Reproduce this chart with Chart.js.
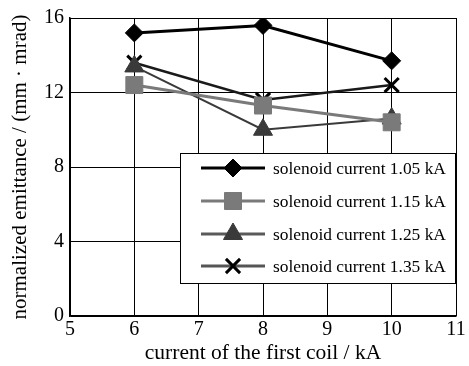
<!DOCTYPE html>
<html>
<head>
<meta charset="utf-8">
<script src="https://cdn.jsdelivr.net/npm/chart.js@4"></script>
<style>
  html, body { margin: 0; padding: 0; background: #fff; }
  #wrap { width: 469px; height: 366px; }
</style>
</head>
<body>
<div id="wrap"><canvas id="emittanceChart" width="469" height="366"></canvas></div>
<script>
// values
const coilCurrent = [6, 8, 10];
const seriesLabels = [
  'solenoid current 1.05 kA',
  'solenoid current 1.15 kA',
  'solenoid current 1.25 kA',
  'solenoid current 1.35 kA'
];
const emit105 = [15.2, 15.6, 13.7];
const emit115 = [12.4, 11.3, 10.4];
const emit125 = [13.4, 10.0, 10.6];
const emit135 = [13.6, 11.6, 12.4];
const xTicks = [5, 6, 7, 8, 9, 10, 11];
const yTicks = [0, 4, 8, 12, 16];

const FONT = '"Liberation Serif", "Times New Roman", serif';

function toPoints(ys) {
  return coilCurrent.map((x, i) => ({ x: x, y: ys[i] }));
}

const styles = [
  { color: '#000000', width: 3, point: 'rectRot', radius: 9, legendLine: '#000000' },
  { color: '#7a7a7a', width: 3, point: 'rect', radius: 12, legendLine: '#7a7a7a' },
  { color: '#3a3a3a', width: 2, point: 'triangle', radius: 11, legendLine: '#5a5a5a' },
  { color: '#1a1a1a', width: 2.5, point: 'crossRot', radius: 10, legendLine: '#555555' }
];
const allSeries = [emit105, emit115, emit125, emit135];

const datasets = allSeries.map((ys, i) => ({
  label: seriesLabels[i],
  data: toPoints(ys),
  borderColor: styles[i].color,
  backgroundColor: styles[i].color,
  borderWidth: styles[i].width,
  pointStyle: styles[i].point,
  pointRadius: styles[i].radius,
  pointBorderWidth: styles[i].point === 'crossRot' ? 3 : 1,
  pointBorderColor: styles[i].point === 'crossRot' ? '#000' : styles[i].color,
  tension: 0
}));

// legend box inside the plot, like the figure
const boxLegend = {
  id: 'boxLegend',
  afterDatasetsDraw(chart) {
    const ctx = chart.ctx;
    const area = chart.chartArea;
    const left = 180, top = 153, right = area.right, bottom = 284;
    ctx.save();
    ctx.fillStyle = '#fff';
    ctx.fillRect(left, top, right - left, bottom - top);
    ctx.strokeStyle = '#000';
    ctx.lineWidth = 1;
    ctx.strokeRect(left + 0.5, top + 0.5, right - left - 1, bottom - top - 1);
    const rowY = [168, 201, 234, 266];
    ctx.font = '17.4px ' + FONT;
    ctx.textBaseline = 'middle';
    ctx.textAlign = 'left';
    chart.data.datasets.forEach((ds, i) => {
      const y = rowY[i];
      ctx.strokeStyle = styles[i].legendLine;
      ctx.lineWidth = 3;
      ctx.beginPath();
      ctx.moveTo(201, y);
      ctx.lineTo(265, y);
      ctx.stroke();
      ctx.fillStyle = ds.backgroundColor;
      ctx.strokeStyle = ds.pointBorderColor;
      ctx.lineWidth = ds.pointBorderWidth;
      Chart.helpers.drawPoint(ctx, { pointStyle: ds.pointStyle, radius: ds.pointRadius, rotation: 0, borderWidth: ds.pointBorderWidth }, 233, y);
      ctx.fillStyle = '#000';
      ctx.fillText(ds.label, 273, y + 1);
    });
    ctx.restore();
  }
};

new Chart(document.getElementById('emittanceChart'), {
  type: 'line',
  data: { datasets: datasets },
  options: {
    responsive: false,
    animation: false,
    layout: { padding: { top: 15, right: 11, left: 0, bottom: 0 } },
    scales: {
      x: {
        type: 'linear',
        min: 5,
        max: 11,
        afterFit(scale) { scale.height = 50; },
        afterBuildTicks(scale) { scale.ticks = xTicks.map(v => ({ value: v })); },
        grid: { color: '#000', lineWidth: 1, drawTicks: false },
        border: { color: '#000', width: 1.5 },
        ticks: { color: '#000', padding: 2, font: { family: FONT, size: 20 } },
        title: {
          display: true,
          text: 'current of the first coil / kA',
          color: '#000',
          padding: { top: 0, bottom: 0 },
          font: { family: FONT, size: 21.5 }
        }
      },
      y: {
        min: 0,
        max: 16,
        afterFit(scale) { scale.width = 70; },
        afterBuildTicks(scale) { scale.ticks = yTicks.map(v => ({ value: v })); },
        grid: { color: '#000', lineWidth: 1, drawTicks: false },
        border: { color: '#000', width: 1.5 },
        ticks: { color: '#000', padding: 6, font: { family: FONT, size: 20 } },
        title: {
          display: true,
          text: 'normalized emittance / (mm \u00b7 mrad)',
          color: '#000',
          padding: { top: 8, bottom: 0 },
          font: { family: FONT, size: 21 }
        }
      }
    },
    plugins: {
      legend: { display: false },
      tooltip: { enabled: false }
    }
  },
  plugins: [boxLegend]
});
</script>
</body>
</html>
